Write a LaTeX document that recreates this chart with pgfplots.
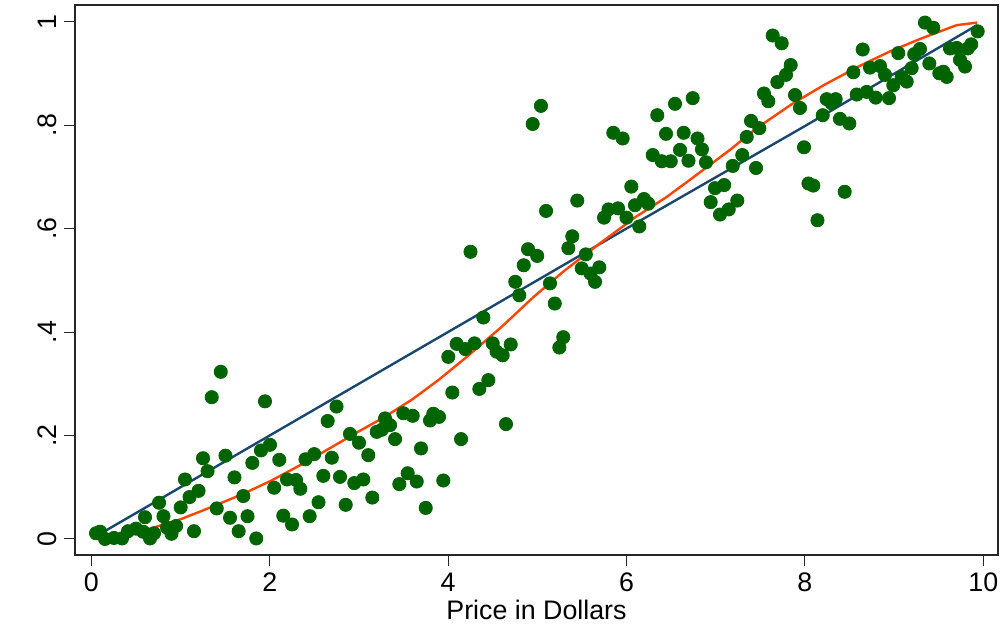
\documentclass[border=0pt]{standalone}
\usepackage{fontspec}
\setmainfont{Liberation Sans}
\usepackage{pgfplots}
\pgfplotsset{compat=1.18}
\definecolor{dkgreen}{RGB}{0,100,0}
\definecolor{stnavy}{RGB}{26,71,111}
\definecolor{storange}{RGB}{255,69,0}
\begin{document}
\begin{tikzpicture}
\begin{axis}[
  scale only axis, width=461.5pt, height=275pt,
  xmin=-0.183, xmax=10.165, ymin=-0.031, ymax=1.032,
  axis line style={line width=0.75pt, black!85},
  tick align=outside, tick style={line width=0.5pt, black!85}, major tick length=5.5pt,
  xtick pos=bottom, ytick pos=left,
  xtick={0,2,4,6,8,10}, xticklabels={0,2,4,6,8,10},
  ytick={0,0.2,0.4,0.6,0.8,1}, yticklabels={0,.2,.4,.6,.8,1},
  tick label style={font=\fontsize{13.4}{15}\selectfont},
  yticklabel style={rotate=90, anchor=south},
  xlabel={Price in Dollars},
  xlabel style={font=\fontsize{13.4}{15}\selectfont, inner sep=0pt, yshift=-0.5pt},
  clip=false,
]
\addplot[only marks, mark=*, mark size=3.3pt, color=dkgreen] table {
x y
0.053 0.011
0.098 0.014
0.154 0.000
0.254 0.002
0.344 0.001
0.411 0.015
0.501 0.020
0.580 0.014
0.602 0.042
0.658 0.001
0.703 0.011
0.759 0.070
0.809 0.044
0.849 0.022
0.899 0.010
0.950 0.025
1.002 0.061
1.050 0.115
1.101 0.081
1.151 0.015
1.202 0.093
1.252 0.156
1.303 0.131
1.350 0.274
1.406 0.059
1.451 0.323
1.504 0.161
1.555 0.041
1.605 0.119
1.652 0.015
1.704 0.083
1.751 0.044
1.805 0.147
1.849 0.001
1.902 0.171
1.947 0.266
2.003 0.182
2.050 0.099
2.107 0.153
2.152 0.045
2.194 0.115
2.250 0.028
2.295 0.114
2.343 0.097
2.401 0.154
2.448 0.044
2.499 0.164
2.547 0.071
2.601 0.122
2.650 0.228
2.696 0.157
2.749 0.256
2.788 0.120
2.852 0.066
2.900 0.203
2.948 0.108
3.001 0.186
3.049 0.115
3.105 0.162
3.150 0.080
3.200 0.207
3.256 0.211
3.293 0.233
3.349 0.220
3.405 0.193
3.453 0.106
3.498 0.243
3.547 0.127
3.603 0.238
3.648 0.111
3.696 0.175
3.749 0.060
3.797 0.229
3.834 0.242
3.898 0.236
3.946 0.113
4.002 0.352
4.047 0.283
4.096 0.377
4.145 0.193
4.193 0.367
4.251 0.555
4.296 0.378
4.350 0.290
4.395 0.428
4.451 0.307
4.500 0.378
4.543 0.362
4.612 0.355
4.649 0.222
4.702 0.376
4.753 0.497
4.798 0.471
4.848 0.529
4.896 0.560
4.948 0.802
4.999 0.547
5.041 0.837
5.098 0.634
5.142 0.494
5.196 0.455
5.247 0.370
5.291 0.390
5.348 0.562
5.392 0.585
5.448 0.654
5.498 0.523
5.544 0.550
5.596 0.513
5.647 0.497
5.695 0.525
5.748 0.621
5.798 0.637
5.852 0.785
5.905 0.639
5.957 0.774
6.000 0.621
6.054 0.681
6.095 0.645
6.143 0.604
6.196 0.657
6.244 0.648
6.294 0.742
6.345 0.819
6.395 0.730
6.443 0.783
6.496 0.730
6.544 0.841
6.600 0.752
6.641 0.785
6.695 0.731
6.742 0.852
6.796 0.774
6.846 0.753
6.891 0.728
6.944 0.651
6.992 0.678
7.048 0.627
7.095 0.684
7.146 0.637
7.191 0.721
7.242 0.654
7.298 0.742
7.348 0.777
7.396 0.808
7.452 0.717
7.489 0.794
7.541 0.861
7.590 0.846
7.639 0.973
7.691 0.883
7.740 0.958
7.788 0.897
7.841 0.916
7.889 0.858
7.945 0.833
7.990 0.757
8.040 0.687
8.094 0.683
8.141 0.616
8.200 0.819
8.244 0.850
8.300 0.842
8.345 0.850
8.393 0.812
8.446 0.671
8.498 0.803
8.543 0.902
8.581 0.859
8.648 0.946
8.693 0.864
8.730 0.911
8.794 0.853
8.842 0.914
8.898 0.897
8.943 0.852
8.991 0.877
9.047 0.939
9.085 0.893
9.141 0.884
9.197 0.910
9.226 0.937
9.290 0.947
9.346 0.998
9.395 0.919
9.439 0.988
9.507 0.900
9.552 0.903
9.590 0.893
9.627 0.948
9.702 0.949
9.739 0.926
9.795 0.913
9.826 0.948
9.865 0.956
9.937 0.981
};
\addplot[stnavy, line width=1.2pt, no marks] coordinates {
(0.06,0.006) (2.0,0.200) (4.0,0.400) (6.0,0.600) (8.0,0.798) (9.93,0.993)
};
\addplot[storange, line width=1.2pt, no marks] coordinates {
(0.06,0.000) (0.40,0.008) (0.68,0.021) (1.00,0.038) (1.35,0.062) (1.70,0.087)
(2.02,0.113) (2.40,0.148) (2.77,0.185) (3.00,0.208) (3.29,0.236) (3.60,0.270)
(3.89,0.307) (4.21,0.352) (4.60,0.410) (4.96,0.468) (5.30,0.518) (5.70,0.571)
(6.10,0.622) (6.45,0.661) (6.71,0.694) (7.16,0.752) (7.46,0.794) (7.85,0.840)
(8.21,0.877) (8.60,0.913) (8.95,0.942) (9.30,0.967) (9.70,0.993) (9.93,0.998)
};
\end{axis}
\pgfresetboundingbox
\path ([shift={(-37.5pt,-36pt)}]current axis.south west) rectangle ([shift={(1pt,2.5pt)}]current axis.north east);
\end{tikzpicture}
\end{document}
